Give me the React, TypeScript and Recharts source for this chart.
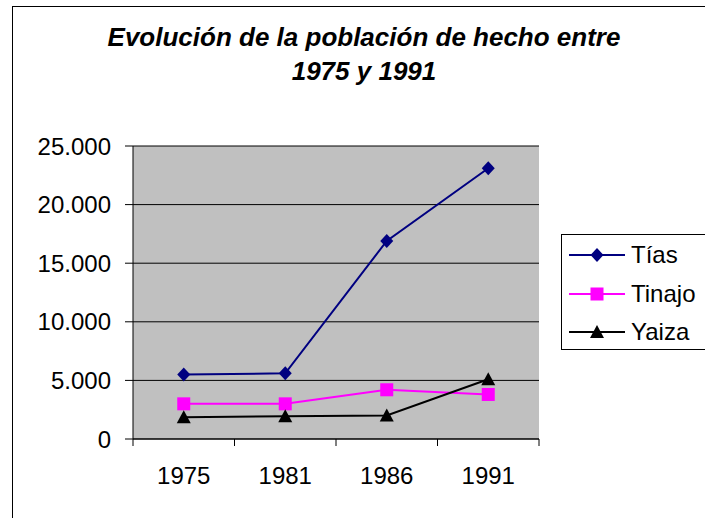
import React from "react";
import {
  LineChart,
  Line,
  XAxis,
  YAxis,
  CartesianGrid,
  Legend,
} from "recharts";

const years = ["1975", "1981", "1986", "1991"];
const tias = [5500, 5600, 16900, 23100];
const tinajo = [3000, 3000, 4200, 3800];
const yaiza = [1850, 1950, 2000, 5100];
const yTicks = [0, 5000, 10000, 15000, 20000, 25000];

const data = years.map((year, i) => ({
  year,
  Tías: tias[i],
  Tinajo: tinajo[i],
  Yaiza: yaiza[i],
}));

const FONT = "'Liberation Sans', Arial, sans-serif";

function Diamond({ cx, cy, fill }: any) {
  if (cx == null || cy == null) return null;
  return (
    <path
      d={`M${cx},${cy - 7} L${cx + 6.5},${cy} L${cx},${cy + 7} L${cx - 6.5},${cy} Z`}
      fill={fill}
    />
  );
}

function Square({ cx, cy, fill }: any) {
  if (cx == null || cy == null) return null;
  return <rect x={cx - 6.5} y={cy - 6.5} width={13} height={13} fill={fill} />;
}

function Triangle({ cx, cy, fill }: any) {
  if (cx == null || cy == null) return null;
  return (
    <path
      d={`M${cx},${cy - 7} L${cx + 7},${cy + 6} L${cx - 7},${cy + 6} Z`}
      fill={fill}
    />
  );
}

// category label centred in its band, tick marks on the band edges (Excel style)
function YearTick({ x, y, payload, index, visibleTicksCount }: any) {
  const half = payload?.offset ?? 0;
  const last = index === visibleTicksCount - 1;
  return (
    <g>
      <line x1={x - half} x2={x - half} y1={y} y2={y + 7} stroke="#000" />
      {last && <line x1={x + half} x2={x + half} y1={y} y2={y + 7} stroke="#000" />}
      <text
        x={x}
        y={y + 28}
        dy="0.71em"
        textAnchor="middle"
        fill="#000"
        fontSize={24}
        fontFamily={FONT}
      >
        {payload.value}
      </text>
    </g>
  );
}

const series = [
  { key: "Tías", color: "#000080", Marker: Diamond },
  { key: "Tinajo", color: "#ff00ff", Marker: Square },
  { key: "Yaiza", color: "#000000", Marker: Triangle },
];

const fmt = (v: number) => v.toLocaleString("de-DE");

function LegendBox() {
  return (
    <div
      style={{
        border: "1px solid #000",
        background: "#fff",
        width: 150,
        height: 116,
        boxSizing: "border-box",
        paddingTop: 1,
        fontFamily: FONT,
        fontSize: 24,
      }}
    >
      {series.map(({ key, color, Marker }) => (
        <div
          key={key}
          style={{ display: "flex", alignItems: "center", height: 38.5 }}
        >
          <svg width={69} height={20} style={{ flex: "none" }}>
            <line x1={7} x2={63} y1={10} y2={10} stroke={color} strokeWidth={2} />
            <Marker cx={35} cy={10} fill={color} />
          </svg>
          <span style={{ color: "#000" }}>{key}</span>
        </div>
      ))}
    </div>
  );
}

export default function App() {
  return (
    <div
      style={{
        position: "absolute",
        left: 0,
        top: 0,
        width: 705,
        height: 518,
        overflow: "hidden",
        background: "#fff",
        fontFamily: FONT,
      }}
    >
      <div
        style={{
          position: "absolute",
          left: 12,
          top: 6,
          width: 720,
          height: 540,
          borderLeft: "1.5px solid #000",
          borderTop: "1.5px solid #000",
        }}
      />
      <div
        style={{
          position: "absolute",
          left: 14,
          width: 700,
          top: 20,
          textAlign: "center",
          fontWeight: "bold",
          fontStyle: "italic",
          fontSize: 26,
          lineHeight: "34px",
          color: "#000",
        }}
      >
        Evolución de la población de hecho entre
        <br />
        1975 y 1991
      </div>
      <LineChart
        width={705}
        height={518}
        data={data}
        margin={{ top: 146, right: 166, bottom: 0, left: 0 }}
        style={{ position: "absolute", left: 0, top: 0 }}
      >
        <CartesianGrid
          vertical={false}
          fill="#c0c0c0"
          stroke="#000"
          strokeOpacity={1}
        />
        <XAxis
          dataKey="year"
          scale="band"
          height={79}
          tickSize={0}
          tickMargin={0}
          interval={0}
          axisLine={{ stroke: "#000" }}
          tickLine={false}
          tick={<YearTick />}
        />
        <YAxis
          width={133}
          domain={[0, 25000]}
          ticks={yTicks}
          tickFormatter={fmt}
          tickSize={8}
          tickMargin={14}
          axisLine={{ stroke: "#000" }}
          tickLine={{ stroke: "#000" }}
          tick={{ fill: "#000", fontSize: 24, fontFamily: FONT }}
        />
        <YAxis
          yAxisId="right"
          orientation="right"
          width={0}
          domain={[0, 25000]}
          tick={false}
          tickLine={false}
          axisLine={{ stroke: "#808080", strokeWidth: 2 }}
        />
        {series.map(({ key, color, Marker }) => (
          <Line
            key={key}
            dataKey={key}
            stroke={color}
            strokeWidth={2}
            isAnimationActive={false}
            dot={(p: any) => <Marker key={`${key}-${p.index}`} cx={p.cx} cy={p.cy} fill={color} />}
            activeDot={false}
          />
        ))}
        <Legend
          layout="horizontal"
          align="center"
          verticalAlign="middle"
          wrapperStyle={{ left: 561, top: 234, width: 150, height: 116 }}
          content={() => <LegendBox />}
        />
      </LineChart>
    </div>
  );
}
